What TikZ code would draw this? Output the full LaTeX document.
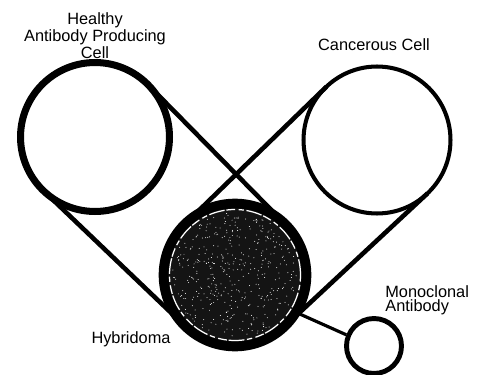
\documentclass[tikz,border=0pt]{standalone}
\usepackage{fontspec}
\setmainfont{Liberation Sans}
\usetikzlibrary{calc}

\begin{document}
\begin{tikzpicture}[x=0.02cm, y=-0.02cm,
    cell/.style={circle, draw=black, fill=white, inner sep=0pt},
    band/.style={line width=2.6pt, black},
    lbl/.style={font=\fontsize{9.3}{9.6}\selectfont, inner sep=0pt, align=center}
]
    \useasboundingbox (0,0) rectangle (487,375);

    \node[cell, line width=4pt, minimum size=2.98cm] (healthy) at (95,137) {};
    \node[cell, line width=2.3pt, minimum size=2.94cm] (cancer) at (377,140) {};
    \node[cell, line width=5.5pt, fill=black!92, minimum size=2.86cm] (hybrid) at (235,275) {};
    \node[cell, line width=2.8pt, minimum size=1.1cm] (mono) at (374,346) {};

    % tangent points of the two bands
    \coordinate (hu) at ($(healthy.center)!1.49cm!90:(hybrid.center)$);
    \coordinate (hd) at ($(healthy.center)!1.49cm!-90:(hybrid.center)$);
    \coordinate (bhu) at ($(hybrid.center)!1.43cm!-90:(healthy.center)$);
    \coordinate (bhd) at ($(hybrid.center)!1.43cm!90:(healthy.center)$);
    \coordinate (cu) at ($(cancer.center)!1.47cm!-90:(hybrid.center)$);
    \coordinate (cd) at ($(cancer.center)!1.47cm!90:(hybrid.center)$);
    \coordinate (bcu) at ($(hybrid.center)!1.43cm!90:(cancer.center)$);
    \coordinate (bcd) at ($(hybrid.center)!1.43cm!-90:(cancer.center)$);

    \draw[band] (hu) -- (bhu);
    \draw[band] (hd) -- (bhd);
    \draw[band] (cu) -- (bcu);
    \draw[band] (cd) -- (bcd);

    % speckled inside of the hybridoma
    \draw[white, line width=0.7pt, dash pattern=on 9pt off 1.5pt on 3pt off 2pt on 5pt off 1pt]
        (hybrid.center) circle (1.31cm);
    \pgfmathsetseed{7}
    \foreach \i in {1,...,420} {
        \pgfmathsetmacro\ang{360*rnd}
        \pgfmathsetmacro\rad{35.5*sqrt(rnd)}
        \fill[white] ($(hybrid.center)+(\ang:\rad pt)$) circle (0.28pt);
    }

    \draw[line width=1.8pt] (hybrid.-31) -- (mono.158);

    \node[lbl] (healthylbl) at (95,36) {Healthy\\Antibody Producing\\Cell};
    \node[lbl] (cancerlbl) at (374,45) {Cancerous Cell};
    \node[lbl] (hybridlbl) at (131,339) {Hybridoma};
    \node[lbl, anchor=west, align=left, font=\fontsize{9.3}{8}\selectfont] (monolbl) at (385,300) {Monoclonal\\Antibody};
\end{tikzpicture}
\end{document}
